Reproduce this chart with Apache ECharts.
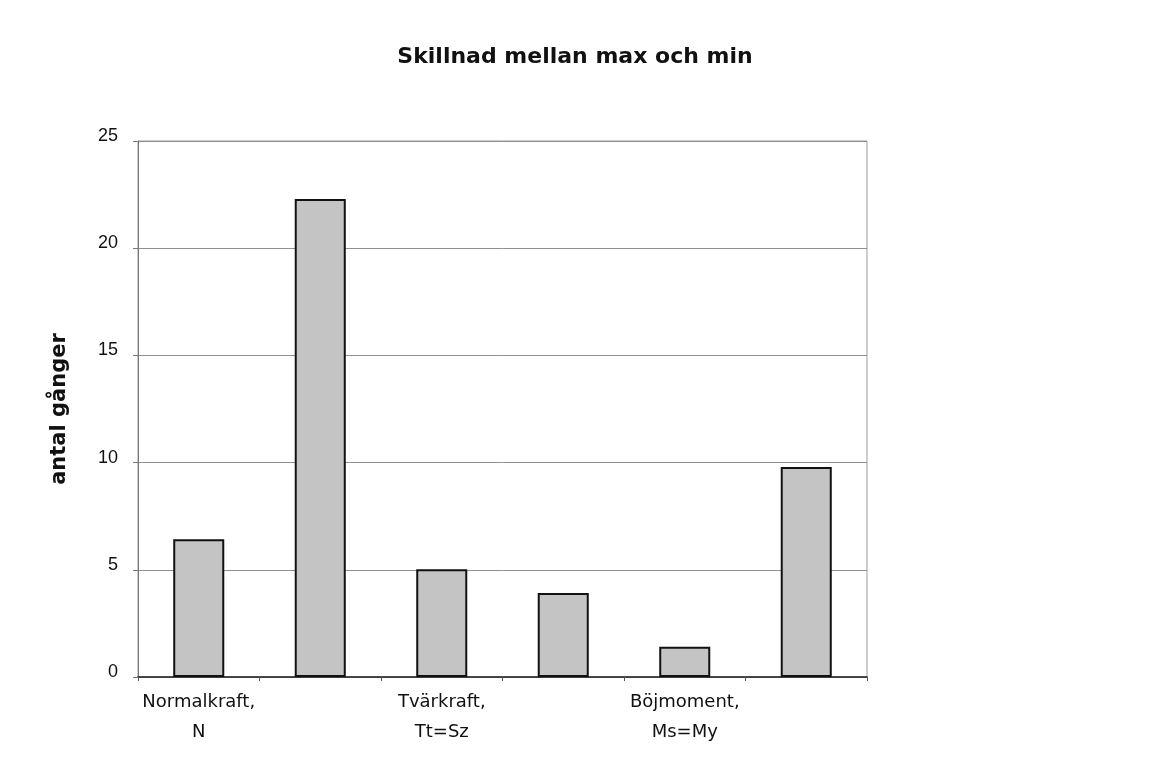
<!DOCTYPE html>
<html>
<head>
<meta charset="utf-8">
<script src="https://cdn.jsdelivr.net/npm/echarts@6/dist/echarts.min.js"></script>
<style>
  html, body { margin: 0; padding: 0; background: #fff; }
  #chart { width: 1150px; height: 784px; }
</style>
</head>
<body>
<div id="chart"></div>
<script>
// kategorier (etikett bara under varannan stapel)
var categories = ['Normalkraft,\nN', '', 'Tvärkraft,\nTt=Sz', '', 'Böjmoment,\nMs=My', ''];
var values = [6.42, 22.3, 5.02, 3.92, 1.41, 9.8];
var yTicks = [0, 5, 10, 15, 20, 25];

var chart = echarts.init(document.getElementById('chart'));

var option = {
    backgroundColor: '#fff',
    animation: false,
    textStyle: { fontFamily: 'Liberation Sans, Arial, sans-serif' },
    title: {
        text: 'Skillnad mellan max och min',
        left: 'center',
        top: 41,
        textStyle: { fontFamily: 'DejaVu Sans', fontSize: 22, fontWeight: 'bold', color: '#111' }
    },
    grid: {
        left: 138, right: 283, top: 141, bottom: 107,
        show: true,
        borderColor: '#9a9a9a',
        borderWidth: 1
    },
    xAxis: {
        type: 'category',
        data: categories,
        axisLine: { lineStyle: { color: '#222', width: 1.5 } },
        axisTick: { show: true, length: 4, lineStyle: { color: '#555' } },
        axisLabel: {
            interval: 0,
            color: '#111',
            fontFamily: 'DejaVu Sans',
            fontSize: 18,
            lineHeight: 30,
            margin: 10
        }
    },
    yAxis: {
        type: 'value',
        min: yTicks[0],
        max: yTicks[yTicks.length - 1],
        interval: 5,
        name: 'antal gånger',
        nameLocation: 'middle',
        nameGap: 68,
        nameTextStyle: { fontFamily: 'DejaVu Sans', fontSize: 21, fontWeight: 'bold', color: '#111' },
        axisLine: { show: true, lineStyle: { color: '#777' } },
        axisTick: { show: true, length: 5, lineStyle: { color: '#777' } },
        axisLabel: { color: '#111', fontSize: 18, margin: 20, verticalAlign: 'bottom', lineHeight: 10 },
        splitLine: { show: true, lineStyle: { color: '#909090', width: 1 } }
    },
    series: [{
        type: 'bar',
        data: values,
        barWidth: '42%',
        itemStyle: {
            color: '#c4c4c4',
            borderColor: '#111',
            borderWidth: 2
        }
    }]
};

chart.setOption(option);
</script>
</body>
</html>
